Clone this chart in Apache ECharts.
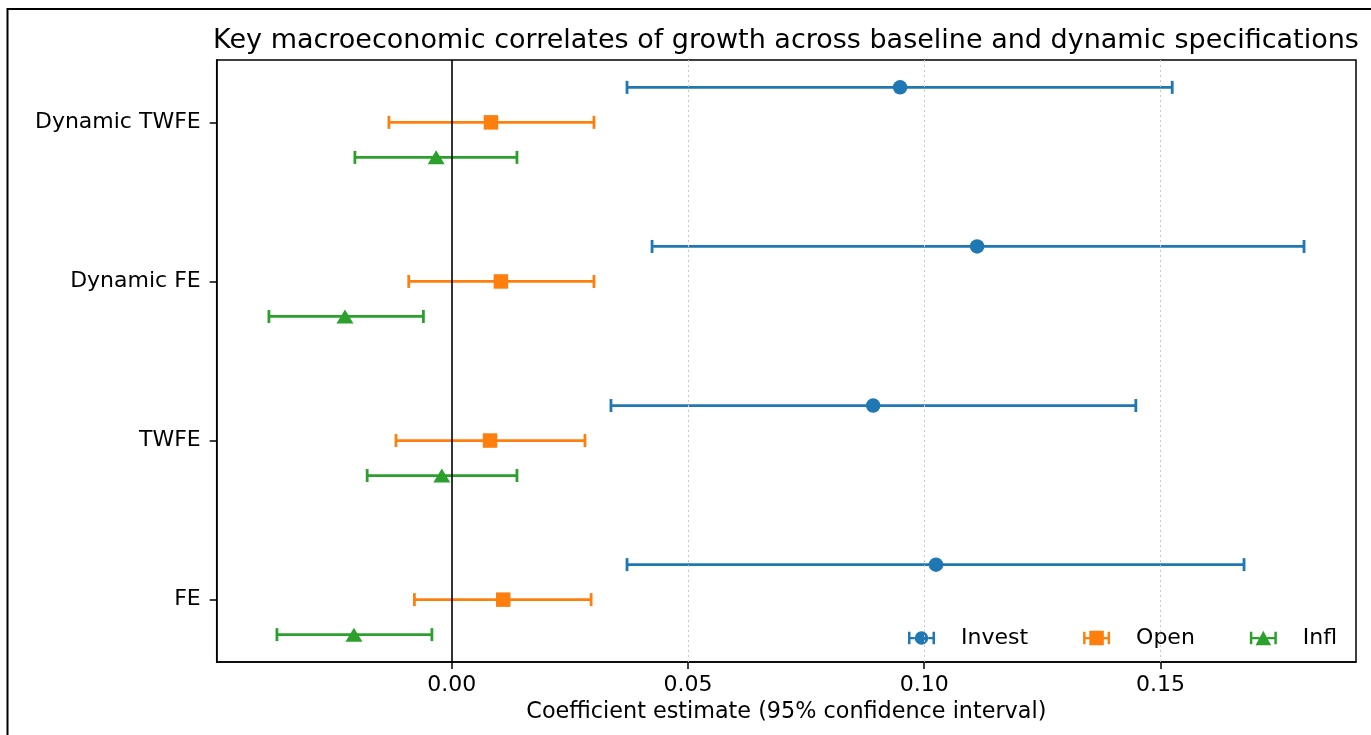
<!DOCTYPE html>
<html>
<head>
<meta charset="utf-8">
<script src="https://cdn.jsdelivr.net/npm/echarts@6/dist/echarts.min.js"></script>
<style>
html,body{margin:0;padding:0;background:#fff;}
#chart{width:1371px;height:735px;}
</style>
</head>
<body>
<div id="chart"></div>
<script>
// Specifications (bottom to top)
const categories = ['FE', 'TWFE', 'Dynamic FE', 'Dynamic TWFE'];
const seriesNames = ['Invest', 'Open', 'Infl'];
// Point estimates and 95% CI bounds, in category order
const investEst = [0.1025, 0.0892, 0.1112, 0.0949];
const investLo  = [0.0371, 0.0337, 0.0424, 0.0371];
const investHi  = [0.1677, 0.1448, 0.1804, 0.1525];
const openEst   = [0.0109, 0.0081, 0.0104, 0.0083];
const openLo    = [-0.0079, -0.0118, -0.0091, -0.0133];
const openHi    = [0.0295, 0.0282, 0.0301, 0.0301];
const inflEst   = [-0.0207, -0.0021, -0.0226, -0.0033];
const inflLo    = [-0.0370, -0.0179, -0.0387, -0.0205];
const inflHi    = [-0.0042, 0.0138, -0.0060, 0.0138];
const xTicks = [0, 0.05, 0.10, 0.15];
const yTicks = [0, 1, 2, 3];

const colors = ['#1f77b4', '#ff7f0e', '#2ca02c'];
const offsets = [0.22, 0, -0.22];
const symbols = ['circle', 'rect', 'triangle'];
const symbolSizes = [14.5, 14.5, [17, 14]];
const est = [investEst, openEst, inflEst];
const lo = [investLo, openLo, inflLo];
const hi = [investHi, openHi, inflHi];

const FONT = 'DejaVu Sans';

const legendIcons = [
  'path://M0,1H2.4V6H6.5V8.2H2.4V13H0Z M19.5,6H23.6V1H26V13H23.6V8.2H19.5Z M6.5,7A6.5,6.5 0 1,1 19.5,7A6.5,6.5 0 1,1 6.5,7Z',
  'path://M0,1H2.4V6H6V0H20V6H23.6V1H26V13H23.6V8.2H20V14H6V8.2H2.4V13H0Z',
  'path://M0,1H2.4V6H9.3V8.2H2.4V13H0Z M16.7,6H23.6V1H26V13H23.6V8.2H16.7Z M13,0L20.5,14H5.5Z'
];

const series = [];
seriesNames.forEach((name, s) => {
  const barData = categories.map((c, i) => [lo[s][i], hi[s][i], i + offsets[s]]);
  const ptData = categories.map((c, i) => [est[s][i], i + offsets[s]]);
  series.push({
    name: name,
    type: 'custom',
    silent: true,
    itemStyle: {color: colors[s]},
    encode: {x: [0, 1], y: 2},
    data: barData,
    z: 3,
    renderItem: function (params, api) {
      const p1 = api.coord([api.value(0), api.value(2)]);
      const p2 = api.coord([api.value(1), api.value(2)]);
      const h = 6.5;
      const style = {stroke: colors[s], lineWidth: 2.8, fill: null};
      return {
        type: 'group',
        children: [
          {type: 'line', shape: {x1: p1[0], y1: p1[1], x2: p2[0], y2: p2[1]}, style: style},
          {type: 'line', shape: {x1: p1[0], y1: p1[1] - h, x2: p1[0], y2: p1[1] + h}, style: style},
          {type: 'line', shape: {x1: p2[0], y1: p2[1] - h, x2: p2[0], y2: p2[1] + h}, style: style}
        ]
      };
    }
  });
  series.push({
    name: name,
    type: 'scatter',
    symbol: symbols[s],
    symbolSize: symbolSizes[s],
    itemStyle: {color: colors[s], opacity: 1},
    data: ptData,
    z: 4,
    silent: true
  });
});

// reference lines: dotted grid at ticks and solid zero line
series.push({
  name: '_ref',
  type: 'scatter',
  data: [],
  silent: true,
  markLine: {
    silent: true,
    symbol: 'none',
    label: {show: false},
    animation: false,
    data: xTicks.filter(v => v !== 0).map(v => ({
      xAxis: v,
      lineStyle: {color: '#c8c8c8', width: 1, type: [2, 3]}
    })).concat([{xAxis: 0, lineStyle: {color: '#000', width: 1.6, type: 'solid'}}])
  },
  z: 1
});

const chart = echarts.init(document.getElementById('chart'));
chart.setOption({
  animation: false,
  backgroundColor: '#fff',
  textStyle: {fontFamily: FONT},
  grid: {
    left: 216.7, top: 60, right: 15, bottom: 73,
    show: true, borderColor: '#000', borderWidth: 1.5, backgroundColor: 'transparent',
    containLabel: false
  },
  xAxis: {
    type: 'value',
    min: -0.04975,
    max: 0.1914,
    axisLine: {show: true, onZero: false, lineStyle: {color: '#000', width: 1.5}},
    axisTick: {show: true, inside: false, length: 7, customValues: xTicks, lineStyle: {color: '#000', width: 1.5}},
    axisLabel: {customValues: xTicks, formatter: v => v.toFixed(2), color: '#000', fontSize: 22, fontFamily: FONT, margin: 12},
    splitLine: {show: false},
    name: 'Coefficient estimate (95% confidence interval)',
    nameLocation: 'middle',
    nameGap: 38,
    nameTextStyle: {color: '#000', fontSize: 22.3, fontFamily: FONT}
  },
  yAxis: {
    type: 'value',
    min: -0.392,
    max: 3.392,
    axisLine: {show: true, onZero: false, lineStyle: {color: '#000', width: 1.5}},
    axisTick: {show: true, inside: false, length: 7, customValues: yTicks, lineStyle: {color: '#000', width: 1.5}},
    axisLabel: {customValues: yTicks, formatter: v => categories[Math.round(v)], color: '#000', fontSize: 22, fontFamily: FONT, margin: 16},
    splitLine: {show: false}
  },
  legend: {
    left: 903,
    top: 622,
    itemWidth: 27,
    itemHeight: 15,
    itemGap: 55,
    selectedMode: false,
    data: seriesNames.map((n, i) => ({name: n, icon: legendIcons[i]})),
    textStyle: {color: '#000', fontSize: 22, fontFamily: FONT, padding: [0, 0, 0, 21]}
  },
  graphic: [
    {type: 'rect', silent: true, shape: {x: 7.5, y: 9, width: 1500, height: 900},
     style: {fill: null, stroke: '#000', lineWidth: 2}},
    {type: 'text', silent: true, x: 786, y: 41,
     style: {text: 'Key macroeconomic correlates of growth across baseline and dynamic specifications',
             font: '27px "DejaVu Sans"', fill: '#000', textAlign: 'center', textVerticalAlign: 'middle'}}
  ],
  series: series
});
</script>
</body>
</html>
